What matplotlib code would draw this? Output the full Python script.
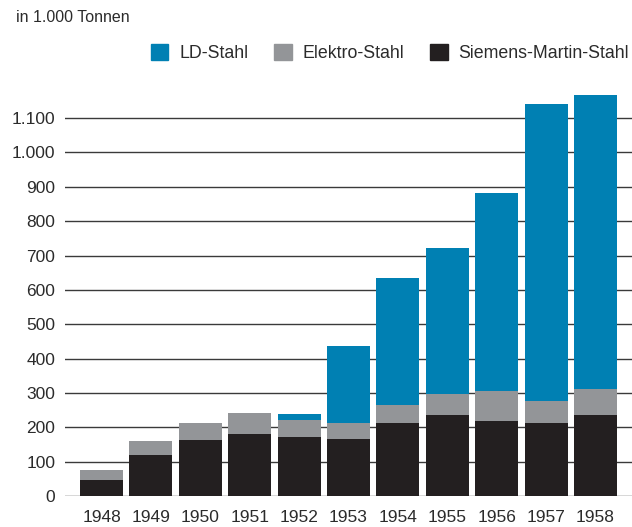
import matplotlib
matplotlib.use("Agg")
import matplotlib.pyplot as plt
from matplotlib.patches import Patch

years = ["1948", "1949", "1950", "1951", "1952", "1953", "1954", "1955", "1956", "1957", "1958"]
siemens_martin = [47, 119, 163, 181, 171, 166, 213, 235, 219, 213, 235]
elektro = [29, 41, 49, 60, 50, 47, 51, 62, 87, 63, 76]
ld = [0, 0, 0, 0, 17, 223, 370, 424, 575, 864, 855]
yticks = list(range(0, 1200, 100))
ytick_labels = ["0", "100", "200", "300", "400", "500", "600", "700", "800", "900", "1.000", "1.100"]

c_ld = "#0080b3"
c_el = "#939598"
c_sm = "#231f20"
txt = "#2b2b2b"

plt.rcParams['font.family'] = ['Liberation Sans', 'DejaVu Sans']

fig = plt.figure(figsize=(6.32, 5.27), dpi=100)
ax = fig.add_axes([65/632, 31/527, 567/632, 403/527])

x = list(range(len(years)))
w = 0.87
ax.bar(x, siemens_martin, width=w, color=c_sm, zorder=3)
ax.bar(x, elektro, width=w, bottom=siemens_martin, color=c_el, zorder=3)
bottom2 = [a + b for a, b in zip(siemens_martin, elektro)]
ax.bar(x, ld, width=w, bottom=bottom2, color=c_ld, zorder=3)

ax.set_xlim(-0.74, 10.74)
ax.set_ylim(0, 1173)
ax.set_yticks(yticks)
ax.set_yticklabels(ytick_labels)
ax.set_xticks(x)
ax.set_xticklabels(years)
for yv in yticks:
    ax.axhline(yv, color="#3a3a3a", lw=1.0, zorder=1)
for s in ax.spines.values():
    s.set_visible(False)
ax.tick_params(axis='both', length=0, labelsize=12.5, colors=txt)
ax.tick_params(axis='y', pad=7)
ax.tick_params(axis='x', pad=10)

fig.text(16/632, 1 - 17/527, "in 1.000 Tonnen", fontsize=11.5, color=txt, va='center', ha='left')

handles = [Patch(color=c_ld, label="LD-Stahl"),
           Patch(color=c_el, label="Elektro-Stahl"),
           Patch(color=c_sm, label="Siemens-Martin-Stahl")]
fig.legend(handles=handles, loc='center right', bbox_to_anchor=(1.0 + 13/632, 1 - 53/527), ncol=3,
           frameon=False, fontsize=12.8, handlelength=1.0, handleheight=1.0, handletextpad=0.6,
           columnspacing=1.45, labelcolor=txt)

fig.savefig("out.png", dpi=100)
